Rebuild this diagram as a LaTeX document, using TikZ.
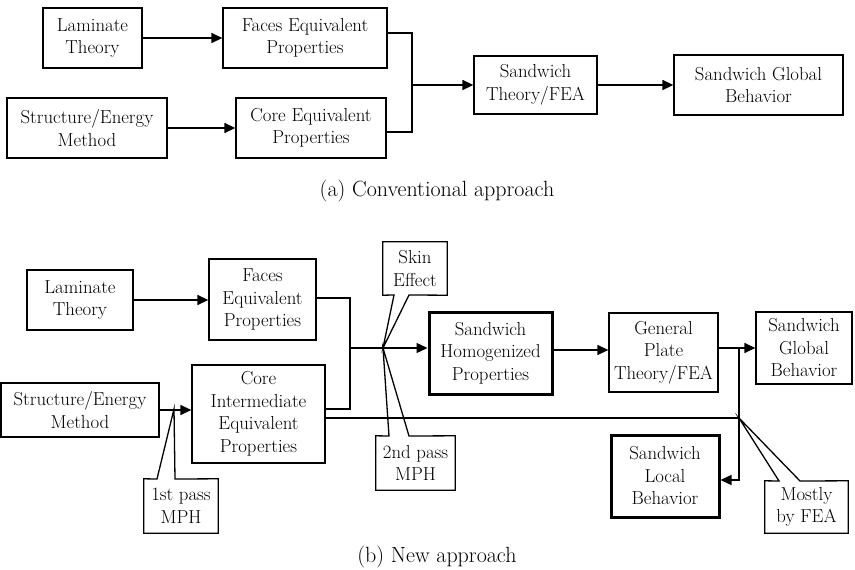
\documentclass[tikz,border=0pt]{standalone}
\usetikzlibrary{arrows.meta}
\begin{document}
\begin{tikzpicture}[x=1pt,y=-1pt,
  txt/.style={align=center, inner sep=0pt, font=\fontsize{18.8}{22.5}\selectfont},
  box/.style={txt, draw, line width=1.3pt},
  thickbox/.style={box, line width=3pt},
  conn/.style={line width=1.3pt},
  arr/.style={conn, -{Triangle[length=11pt,width=10pt]}},
  callout/.style={line width=1.3pt, line join=miter},
  captxt/.style={anchor=base, font=\fontsize{22}{26}\selectfont},
  ]
\useasboundingbox (0,0) rectangle (855,570);

% ---------- (a) conventional approach ----------
\node[box, minimum width=99pt, minimum height=60pt] (la) at (92.5,38) {Laminate\\Theory};
\node[box, minimum width=164pt, minimum height=60pt] (fa) at (305,38) {Faces Equivalent\\Properties};
\node[box, minimum width=160pt, minimum height=60pt] (sa) at (87,128) {Structure/Energy\\Method};
\node[box, minimum width=150pt, minimum height=60pt] (ca) at (311,128) {Core Equivalent\\Properties};
\node[box, minimum width=123pt, minimum height=58pt] (sta) at (535.5,85) {Sandwich\\Theory/FEA};
\node[box, minimum width=169pt, minimum height=60pt] (sga) at (758.5,85) {Sandwich Global\\Behavior};
\coordinate (jA) at (412,85);

\draw[arr] (la) -- (fa);
\draw[arr] (sa) -- (ca);
\draw[conn] ([yshift=5pt]fa.east) -| (jA) |- ([yshift=-4pt]ca.east);
\draw[arr] (jA) -- (sta.west);
\draw[arr] (sta) -- (sga);

\node[captxt] (capa) at (437,196) {(a) Conventional approach};

% ---------- (b) new approach ----------
\node[box, minimum width=106pt, minimum height=60pt] (lb) at (80,300) {Laminate\\Theory};
\node[box, minimum width=107pt, minimum height=81pt] (fb) at (262.5,299.5) {Faces\\Equivalent\\Properties};
\node[box, minimum width=158pt, minimum height=54pt] (sb) at (80,410) {Structure/Energy\\Method};
\node[box, minimum width=133pt, minimum height=98pt] (cb) at (258.5,414) {Core\\Intermediate\\Equivalent\\Properties};
\node[thickbox, minimum width=123pt, minimum height=82pt] (hom) at (490.5,353) {Sandwich\\Homogenized\\Properties};
\node[box, minimum width=109pt, minimum height=79pt] (gp) at (663.5,352.5) {General\\Plate\\Theory/FEA};
\node[box, minimum width=96pt, minimum height=72pt] (sgb) at (804,348) {Sandwich\\Global\\Behavior};
\node[thickbox, minimum width=108pt, minimum height=82pt] (loc) at (665,476) {Sandwich\\Local\\Behavior};

% callout texts
\node[txt, minimum width=64pt, minimum height=53pt] (skin) at (415,268.5) {Skin\\Effect};
\node[txt, minimum width=79pt, minimum height=54pt] (sec) at (415.5,463) {2nd pass\\MPH};
\node[txt, minimum width=74pt, minimum height=54pt] (fst) at (181,506) {1st pass\\MPH};
\node[txt, minimum width=83pt, minimum height=52pt] (most) at (806.5,507) {Mostly\\by FEA};

\coordinate (tipS) at (383,348);
\coordinate (tip1) at (174,409);
\coordinate (tipM) at (739,418);
\coordinate (jB) at (350,348);
\coordinate (jC) at (739,348);
\coordinate (jD) at (739,418);

% callout outlines
\draw[callout] (skin.north west) -- (skin.north east) -- (skin.south east)
  -- (409,295) -- (tipS) -- (394,295) -- (skin.south west) -- cycle;
\draw[callout] (sec.south west) -- (sec.south east) -- (sec.north east)
  -- (409,436) -- (tipS) -- (389,436) -- (sec.north west) -- cycle;
\draw[callout] (fst.south west) -- (fst.south east) -- (fst.north east)
  -- (175,479) -- (tip1) -- (157,479) -- (fst.north west) -- cycle;
\draw[callout] (most.south west) -- (most.south east) -- (most.north east)
  -- (800,481) -- (tipM) -- (779,481) -- (most.north west) -- cycle;

% connectors
\draw[arr] (lb) -- (fb.west |- lb.east);
\draw[arr] (sb.east) -- (cb.west |- sb.east);
\draw[conn] ([yshift=1.5pt]fb.east) -| (jB) |- ([yshift=5pt]cb.east);
\draw[arr] (jB) -- (hom.west |- jB);
\draw[arr] ([yshift=3pt]hom.east) -- ([yshift=3pt]hom.east -| gp.west);
\draw[arr] (gp.east |- sgb.west) -- (sgb.west);
\draw[conn] ([yshift=-4pt]cb.east) -- (jD);
\draw[arr] (jC) |- ([yshift=-4pt]loc.east);

\node[captxt] (capb) at (437,562) {(b) New approach};
\end{tikzpicture}
\end{document}
